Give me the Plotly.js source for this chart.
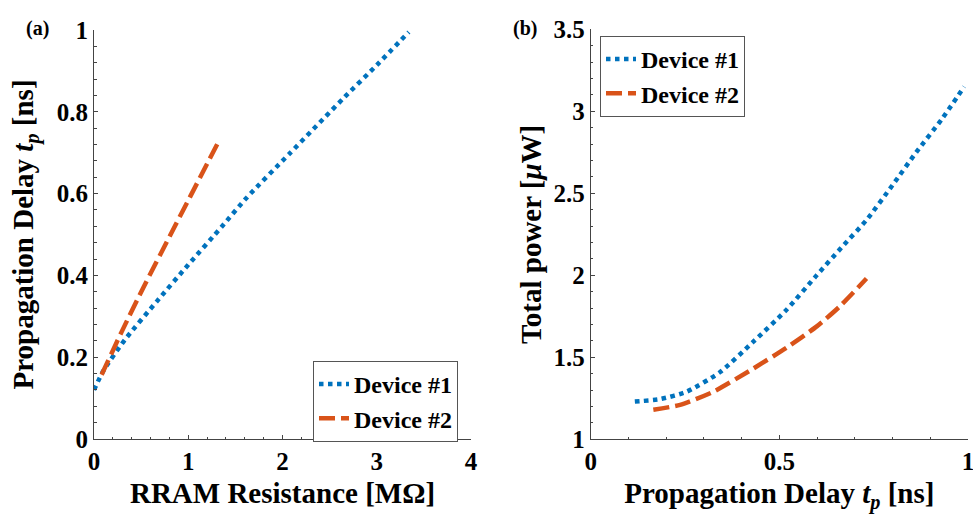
<!DOCTYPE html>
<html>
<head>
<meta charset="utf-8">
<script src="https://cdn.plot.ly/plotly-3.0.1.min.js"></script>
<style>html,body{margin:0;padding:0;background:#fff;}#chart{width:973px;height:527px;}</style>
</head>
<body>
<div id="chart"></div>
<script>
// Panel (a): propagation delay vs RRAM resistance
const resD1 = [0, 0.1, 0.329, 0.665, 1.0, 1.355, 1.62, 2.08, 2.663, 3.0, 3.34];
const delayD1 = [0.12, 0.167, 0.243, 0.336, 0.426, 0.519, 0.59, 0.699, 0.837, 0.914, 0.995];
const resD2 = [0.081, 0.293, 0.523, 0.806, 1.019, 1.31];
const delayD2 = [0.157, 0.262, 0.37, 0.497, 0.592, 0.722];

// Panel (b): total power vs propagation delay
const tpD1 = [0.117, 0.184, 0.254, 0.343, 0.431, 0.519, 0.597, 0.665, 0.731, 0.8, 0.864, 0.93, 0.99];
const powD1 = [1.23, 1.245, 1.29, 1.41, 1.595, 1.79, 1.995, 2.17, 2.337, 2.55, 2.754, 2.95, 3.15];
const tpD2 = [0.166, 0.237, 0.325, 0.43, 0.52, 0.6, 0.66, 0.731];
const powD2 = [1.18, 1.21, 1.29, 1.43, 1.56, 1.69, 1.81, 1.98];

const seriesNames = ["Device #1", "Device #2"];
const xTicksA = [0, 1, 2, 3, 4];
const yTicksA = [0, 0.2, 0.4, 0.6, 0.8, 1];
const xTicksB = [0, 0.5, 1];
const yTicksB = [1, 1.5, 2, 2.5, 3, 3.5];

const FONT = "Liberation Serif";
const BLUE = "#0072BD", ORANGE = "#D95319";
const dotLine = {color: BLUE, width: 4.5, dash: "dot", shape: "spline", smoothing: 0.6};
const dashLine = {color: ORANGE, width: 4.5, dash: "16px,6px", shape: "spline", smoothing: 0.6};

const traces = [
  {x: resD1, y: delayD1, xaxis: "x", yaxis: "y", mode: "lines", name: seriesNames[0], line: dotLine, legend: "legend"},
  {x: resD2, y: delayD2, xaxis: "x", yaxis: "y", mode: "lines", name: seriesNames[1], line: dashLine, legend: "legend"},
  {x: tpD1, y: powD1, xaxis: "x2", yaxis: "y2", mode: "lines", name: seriesNames[0], line: dotLine, legend: "legend2"},
  {x: tpD2, y: powD2, xaxis: "x2", yaxis: "y2", mode: "lines", name: seriesNames[1], line: dashLine, legend: "legend2"}
];

const AXC = "#444";
function ax(extra) {
  return Object.assign({
    showline: true, linecolor: AXC, linewidth: 1, mirror: false,
    ticks: "inside", ticklen: 4, tickcolor: AXC, tickwidth: 1,
    showgrid: false, zeroline: false, fixedrange: true, ticklabeloverflow: "allow",
    tickfont: {family: FONT, size: 25, color: "#000", weight: "bold"},
  }, extra);
}
const titleFont = {family: FONT, size: 29, color: "#000", weight: "bold"};
const legFont = {family: FONT, size: 24, color: "#000", weight: "bold"};

const W = 973, H = 527;
const layout = {
  width: W, height: H,
  margin: {l: 0, r: 0, t: 0, b: 0},
  paper_bgcolor: "#fff", plot_bgcolor: "#fff",
  font: {family: FONT},
  showlegend: true,
  xaxis: ax({domain: [94/W, 471/W], range: [0, 4], tickvals: xTicksA, anchor: "y",
    minor: {dtick: 0.2, ticks: "inside", ticklen: 2.5, tickcolor: AXC},
    title: {text: "RRAM Resistance [MΩ]", font: titleFont, standoff: 8}}),
  yaxis: ax({domain: [(H-439)/H, (H-30)/H], range: [0, 1], tickvals: yTicksA, anchor: "x",
    minor: {dtick: 0.04, ticks: "inside", ticklen: 2.5, tickcolor: AXC},
    title: {text: "Propagation Delay <i>t</i><sub><i>p</i></sub> [ns]", font: titleFont, standoff: 14}}),
  xaxis2: ax({domain: [590.7/W, 968/W], range: [0, 1], tickvals: xTicksB, anchor: "y2",
    minor: {dtick: 0.1, ticks: "inside", ticklen: 2.5, tickcolor: AXC},
    title: {text: "Propagation Delay <i>t</i><sub><i>p</i></sub> [ns]", font: titleFont, standoff: 8}}),
  yaxis2: ax({domain: [(H-439.3)/H, (H-29.3)/H], range: [1, 3.5], tickvals: yTicksB, anchor: "x2",
    minor: {dtick: 0.1, ticks: "inside", ticklen: 2.5, tickcolor: AXC},
    title: {text: "Total power [<i>μ</i>W]", font: titleFont, standoff: 3}}),
  legend: {x: 313/W, y: (H-361)/H, xanchor: "left", yanchor: "top", font: legFont,
    bgcolor: "#fff", bordercolor: "#555", borderwidth: 1, tracegroupgap: 0},
  legend2: {x: 600/W, y: (H-36)/H, xanchor: "left", yanchor: "top", font: legFont,
    bgcolor: "#fff", bordercolor: "#555", borderwidth: 1, tracegroupgap: 0},
  annotations: [
    {text: "(a)", xref: "paper", yref: "paper", x: 24/W, y: (H-15)/H, showarrow: false,
     font: {family: FONT, size: 20, color: "#000", weight: "bold"}},
    {text: "(b)", xref: "paper", yref: "paper", x: 525/W, y: (H-15)/H, showarrow: false,
     font: {family: FONT, size: 20, color: "#000", weight: "bold"}}
  ]
};

Plotly.newPlot("chart", traces, layout, {displayModeBar: false, staticPlot: true});
</script>
</body>
</html>
